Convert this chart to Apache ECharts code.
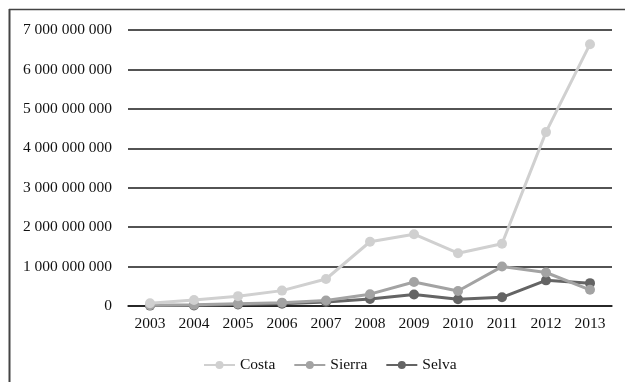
<!DOCTYPE html>
<html><head><meta charset="utf-8">
<script src="https://cdn.jsdelivr.net/npm/echarts@6/dist/echarts.min.js"></script>
<style>html,body{margin:0;padding:0;background:#fff}#c{width:625px;height:382px}</style>
</head><body><div id="c"></div>
<script>
const years = ['2003','2004','2005','2006','2007','2008','2009','2010','2011','2012','2013'];
const costa  = [70e6, 150e6, 250e6, 390e6, 685e6, 1630e6, 1820e6, 1340e6, 1580e6, 4410e6, 6640e6];
const sierra = [20e6, 30e6, 60e6, 85e6, 140e6, 300e6, 610e6, 380e6, 1000e6, 850e6, 410e6];
const selva  = [10e6, 15e6, 40e6, 60e6, 100e6, 180e6, 290e6, 170e6, 220e6, 650e6, 580e6];
const seriesNames = ['Costa','Sierra','Selva'];
const colors = ['#d0d0d0','#a3a3a3','#646464'];
const FONT = '"Liberation Serif", serif';
function fmt(v){ return String(Math.round(v)).replace(/\B(?=(\d{3})+(?!\d))/g,' '); }
const chart = echarts.init(document.getElementById('c'));
const data = [costa, sierra, selva];
chart.setOption({
  animation:false,
  grid:{left:128,right:13,top:30,bottom:76},
  legend:{top:352,left:198,itemWidth:31,itemHeight:10,itemGap:18,
    textStyle:{fontFamily:FONT,fontSize:15.5,color:'#111'}, data:seriesNames},
  xAxis:{type:'category',data:years,boundaryGap:true,
    axisLine:{lineStyle:{color:'#1a1a1a',width:1.5}},axisTick:{show:false},
    axisLabel:{fontFamily:FONT,fontSize:15.5,color:'#111',margin:10}},
  yAxis:{type:'value',min:0,max:7e9,interval:1e9,
    axisLine:{show:false},axisTick:{show:false},
    splitLine:{lineStyle:{color:'#1a1a1a',width:1.5}},
    axisLabel:{fontFamily:FONT,fontSize:15.5,color:'#111',margin:16,formatter:fmt}},
  graphic:[
    {type:'line',shape:{x1:9.5,y1:9,x2:9.5,y2:382},style:{stroke:'#444',lineWidth:2}},
    {type:'line',shape:{x1:9,y1:9.5,x2:625,y2:9.5},style:{stroke:'#444',lineWidth:1.5}}
  ],
  series: seriesNames.map((n,i)=>({
    name:n,type:'line',data:data[i],symbol:'circle',symbolSize:10,
    lineStyle:{color:colors[i],width:3},itemStyle:{color:colors[i]},z:3-i
  }))
});
</script></body></html>
